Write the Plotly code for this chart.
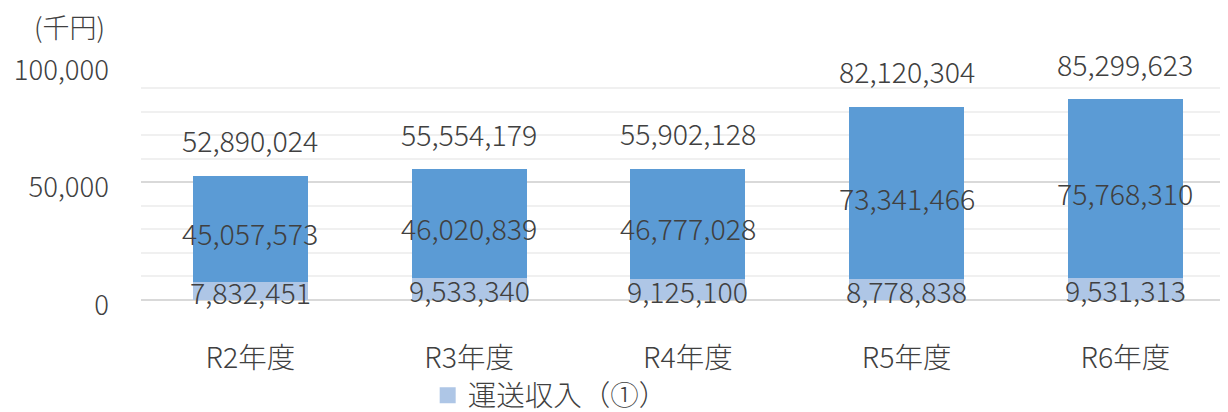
import plotly.graph_objects as go

categories = ["R2年度", "R3年度", "R4年度", "R5年度", "R6年度"]
unso = [7832451, 9533340, 9125100, 8778838, 9531313]          # 運送収入（①）
other = [45057573, 46020839, 46777028, 73341466, 75768310]    # second series
totals = [a + b for a, b in zip(unso, other)]

FONT = "Noto Sans CJK JP"
TXT = "#404040"
FS = 28.5

def k(v):
    return v / 1000.0

fig = go.Figure()
fig.add_trace(go.Bar(x=categories, y=[k(v) for v in unso], name="運送収入（①）",
                     marker=dict(color="#AEC6E6", line_width=0), hoverinfo="skip",
                     showlegend=False))
fig.add_trace(go.Bar(x=categories, y=[k(v) for v in other], name="その他",
                     marker=dict(color="#5B9BD5", line_width=0), showlegend=False,
                     hoverinfo="skip"))
# legend entry
fig.add_trace(go.Scatter(x=[None], y=[None], mode="markers", name="運送収入（①）",
                         marker=dict(symbol="square", size=18, color="#AEC6E6"),
                         showlegend=True))

ann = []
lab_font = dict(family=FONT, size=FS, color=TXT, weight=300)
for c, a, b, t in zip(categories, unso, other, totals):
    ann.append(dict(x=c, y=k(a) / 2, text=f"{a:,}", showarrow=False, yshift=-1,
                    font=lab_font, xref="x", yref="y"))
    ann.append(dict(x=c, y=k(a) + k(b) / 2, text=f"{b:,}", showarrow=False, yshift=-4,
                    font=lab_font, xref="x", yref="y"))
    ann.append(dict(x=c, y=k(t), text=f"{t:,}", showarrow=False, yshift=36,
                    font=lab_font, xref="x", yref="y"))
ann.append(dict(text="(千円)", x=-0.066, y=1.157, xref="paper", yref="paper",
                showarrow=False, font=dict(size=27, family=FONT, color=TXT, weight=300),
                xanchor="center", yanchor="middle"))

fig.update_layout(
    width=1220, height=404,
    margin=dict(l=133, r=0, t=56, b=112),
    barmode="stack", bargap=0.474,
    plot_bgcolor="white", paper_bgcolor="white",
    font=dict(family=FONT, size=FS, color=TXT, weight=300),
    showlegend=True,
    legend=dict(x=0.344, y=0.04, xref="container", yref="container",
                xanchor="left", yanchor="middle",
                orientation="h", font=dict(size=28.5, family=FONT, color=TXT, weight=300),
                bgcolor="rgba(0,0,0,0)"),
    xaxis=dict(range=[-0.5, 4.469], showgrid=False, showline=False, ticks="",
               tickfont=dict(size=FS), ticklabelstandoff=38, automargin=False),
    yaxis=dict(range=[0, 100400], tickvals=[0, 50000, 100000], tickformat=",d",
               showgrid=True, gridcolor="#D9D9D9", gridwidth=1.5,
               minor=dict(dtick=10000, showgrid=True, gridcolor="#F0F0F0", gridwidth=1.5),
               zeroline=True, zerolinecolor="#D9D9D9", zerolinewidth=1.5,
               tickfont=dict(size=27.5), ticklabelstandoff=31, ticklabelshift=5,
               ticks="", automargin=False),
    annotations=ann,
)

fig.write_html("out.html")
